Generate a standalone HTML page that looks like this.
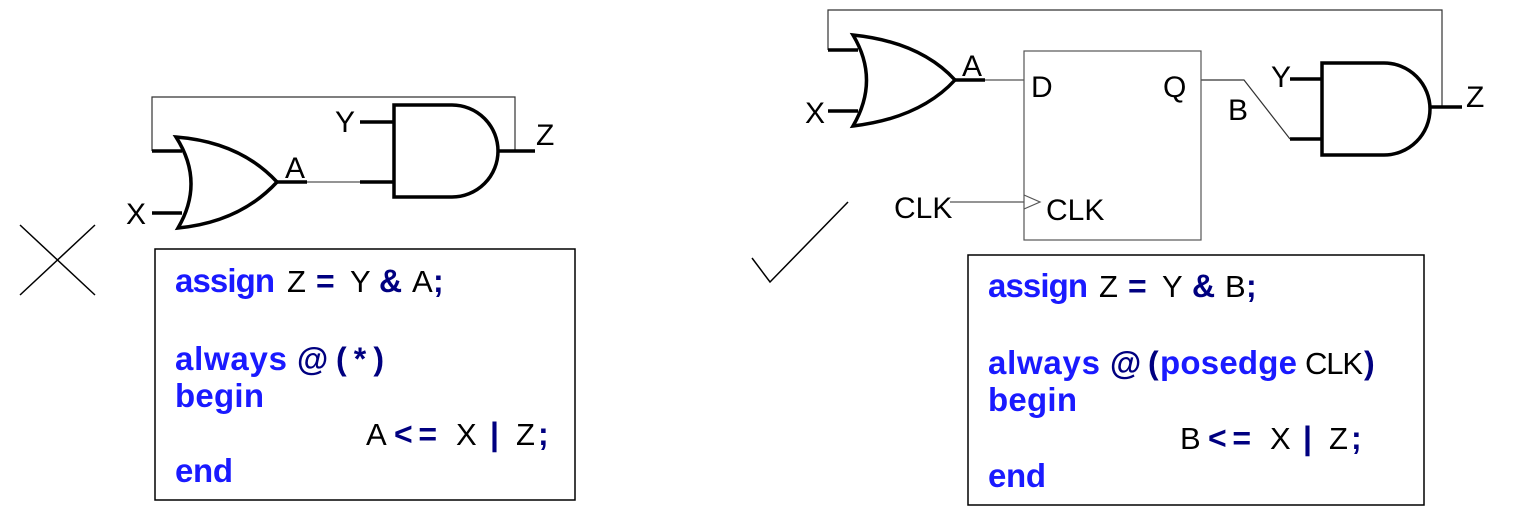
<!DOCTYPE html>
<html><head><meta charset="utf-8"><style>
html,body{margin:0;padding:0;background:#fff;}
svg{display:block;}
text{font-family:"Liberation Sans",sans-serif;}
.k{fill:#1a1aff;font-weight:bold;font-size:33px;}
.o{fill:#000080;font-weight:bold;font-size:32px;}
.n{fill:#000;font-size:31px;}
.l{fill:#000;font-size:30px;}
</style></head><body>
<svg width="1515" height="513" viewBox="0 0 1515 513" xmlns="http://www.w3.org/2000/svg">
<g fill="none" stroke="#000">
<polyline points="152,151 152,97 515,97 515,152" stroke-width="1.2" stroke="#333"/>
<g stroke-width="3.5">
<line x1="152" y1="151" x2="182" y2="151"/>
<line x1="152" y1="213" x2="182" y2="213"/>
<path d="M176,137 Q205,182 178,228 Q240,222 277,182 Q240,142 176,137 Z"/>
<line x1="277" y1="182" x2="307" y2="182"/>
<line x1="360" y1="182" x2="394" y2="182"/>
<line x1="360" y1="122" x2="394" y2="122"/>
<path d="M394,105 L452,105 A46,46 0 0 1 452,197 L394,197 Z"/>
<line x1="498" y1="151" x2="535" y2="151"/>
</g>
<line x1="307" y1="182" x2="360" y2="182" stroke-width="1.2" stroke="#555"/>
<polyline points="828,50 828,10 1442,10 1442,107" stroke-width="1.2" stroke="#333"/>
<g stroke-width="3.5">
<line x1="828" y1="50" x2="858" y2="50"/>
<line x1="828" y1="111" x2="858" y2="111"/>
<path d="M853,35 Q880,80 853,126 Q920,118 955,80 Q920,42 853,35 Z"/>
<line x1="955" y1="80" x2="985" y2="80"/>
<line x1="1290" y1="139" x2="1322" y2="139"/>
<line x1="1290" y1="79" x2="1322" y2="79"/>
<path d="M1322,63 L1384,63 A46,46 0 0 1 1384,155 L1322,155 Z"/>
<line x1="1430" y1="107" x2="1462" y2="107"/>
</g>
<line x1="985" y1="80" x2="1024" y2="80" stroke-width="1.2" stroke="#555"/>
<polyline points="1201,80 1244,80 1290,139" stroke-width="1.2" stroke="#333"/>
<rect x="1024" y="51" width="177" height="189" stroke-width="1.2" stroke="#555"/>
<line x1="950" y1="202" x2="1024" y2="202" stroke-width="1.2" stroke="#555"/>
<polyline points="1024,195 1040,202 1024,209" stroke-width="1.2" stroke="#555"/>
<line x1="20" y1="225" x2="95" y2="295" stroke-width="1.5"/>
<line x1="20" y1="295" x2="95" y2="225" stroke-width="1.5"/>
<polyline points="752,258 770,282 848,202" stroke-width="1.5"/>
<rect x="155" y="249" width="420" height="251" stroke-width="1.5"/>
<rect x="968" y="255" width="456" height="250" stroke-width="1.5"/>
</g>
<text class="l" x="335" y="132">Y</text>
<text class="l" x="536" y="145">Z</text>
<text class="l" x="285" y="178">A</text>
<text class="l" x="126" y="224">X</text>
<text class="l" x="962" y="76">A</text>
<text class="l" x="805" y="123">X</text>
<text class="l" x="1031" y="97">D</text>
<text class="l" x="1163" y="97">Q</text>
<text class="l" x="1228" y="120">B</text>
<text class="l" x="1271" y="87">Y</text>
<text class="l" x="1466" y="107">Z</text>
<text class="l" x="894" y="218">CLK</text>
<text class="l" x="1046" y="220">CLK</text>
<text class="k" x="175" y="292" textLength="100">assign</text>
<text class="n" x="287" y="292">Z</text>
<text class="o" x="316" y="292">=</text>
<text class="n" x="350" y="292">Y</text>
<text class="o" x="379" y="292">&amp;</text>
<text class="n" x="412" y="292">A</text>
<text class="o" x="433" y="292">;</text>
<text class="k" x="175" y="370" textLength="112">always</text>
<text class="o" x="297" y="370">@</text>
<text class="o" x="336" y="370" textLength="48">(*)</text>
<text class="k" x="175" y="407" textLength="89">begin</text>
<text class="n" x="366" y="445">A</text>
<text class="o" x="394" y="445" textLength="43">&lt;=</text>
<text class="n" x="456" y="445">X</text>
<text class="o" x="490" y="445">|</text>
<text class="n" x="516" y="445">Z</text>
<text class="o" x="538" y="445">;</text>
<text class="k" x="175" y="482" textLength="58">end</text>
<text class="k" x="988" y="297" textLength="100">assign</text>
<text class="n" x="1099" y="297">Z</text>
<text class="o" x="1128" y="297">=</text>
<text class="n" x="1162" y="297">Y</text>
<text class="o" x="1192" y="297">&amp;</text>
<text class="n" x="1225" y="297">B</text>
<text class="o" x="1246" y="297">;</text>
<text class="k" x="988" y="374" textLength="112">always</text>
<text class="o" x="1110" y="374">@</text>
<text class="o" x="1148" y="374">(</text>
<text class="k" x="1160" y="374" textLength="137">posedge</text>
<text class="n" x="1305" y="374" textLength="58">CLK</text>
<text class="o" x="1364" y="374">)</text>
<text class="k" x="988" y="411" textLength="89">begin</text>
<text class="n" x="1180" y="449">B</text>
<text class="o" x="1208" y="449" textLength="43">&lt;=</text>
<text class="n" x="1270" y="449">X</text>
<text class="o" x="1303" y="449">|</text>
<text class="n" x="1329" y="449">Z</text>
<text class="o" x="1351" y="449">;</text>
<text class="k" x="988" y="487" textLength="58">end</text>
</svg>
</body></html>
